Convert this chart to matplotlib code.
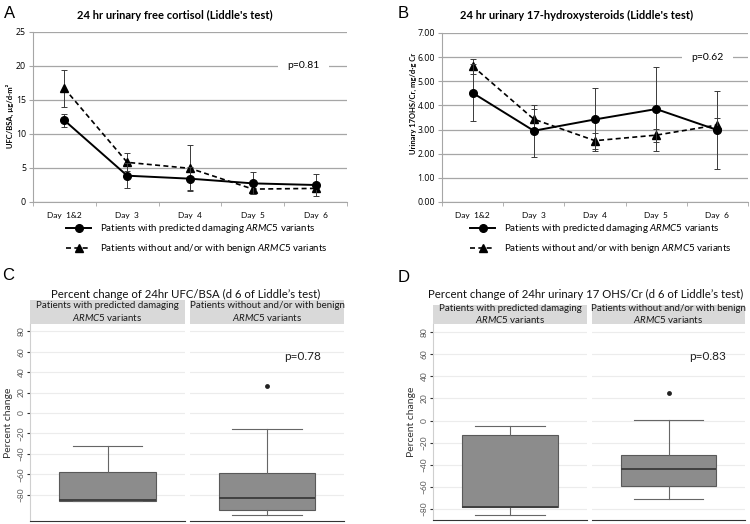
import matplotlib
matplotlib.use("Agg")
import matplotlib.pyplot as plt
import numpy as np
from matplotlib.lines import Line2D

plt.rcParams['font.family'] = ['Lato', 'DejaVu Sans']
plt.rcParams['mathtext.fontset'] = 'custom'
plt.rcParams['mathtext.it'] = 'Lato:italic'
plt.rcParams['mathtext.rm'] = 'Lato'

days = ['Day  1&2', 'Day  3', 'Day  4', 'Day  5', 'Day  6']
series_labels = ['Patients with predicted damaging $\\mathit{ARMC5}$ variants',
                 'Patients without and/or with benign $\\mathit{ARMC5}$ variants']

# panel A: UFC/BSA, mean and error
ufc_dmg = [12.0, 3.87, 3.43, 2.74, 2.5]
ufc_dmg_err = [0.9, 1.87, 1.67, 1.62, 1.6]
ufc_ben = [16.7, 5.83, 4.95, 1.9, 2.0]
ufc_ben_err = [2.7, 1.32, 3.4, 0.73, 0.6]

# panel B: 17OHS/Cr
ohs_dmg = [4.52, 2.95, 3.42, 3.85, 2.98]
ohs_dmg_err = [1.18, 1.07, 1.3, 1.73, 1.63]
ohs_ben = [5.63, 3.43, 2.54, 2.77, 3.19]
ohs_ben_err = [0.31, 0.42, 0.33, 0.27, 0.27]

# panels C/D: box statistics
strip_labels = ['Patients with predicted damaging\n$\\mathit{ARMC5}$ variants',
                'Patients without and/or with benign\n$\\mathit{ARMC5}$ variants']
ufc_box = [dict(whislo=-86.5, q1=-86.5, med=-84.8, q3=-57.8, whishi=-32.6, fliers=[]),
           dict(whislo=-99.6, q1=-95.3, med=-83.6, q3=-58.4, whishi=-16.0, fliers=[26.4])]
ohs_box = [dict(whislo=-85.4, q1=-78.5, med=-78.5, q3=-12.6, whishi=-4.8, fliers=[]),
           dict(whislo=-71.0, q1=-59.2, med=-43.6, q3=-30.7, whishi=0.3, fliers=[25.0])]

W, H = 750, 524
fig = plt.figure(figsize=(W / 100, H / 100), dpi=100)


def px_axes(l, t, r, b):
    return fig.add_axes([l / W, 1 - b / H, (r - l) / W, (b - t) / H])


def fx(x):
    return x / W


def fy(y):
    return 1 - y / H


grid_c = '#a6a6a6'


def line_panel(ax, dmg, dmg_err, ben, ben_err, ylim, yticks, fmt, ptext, px):
    x = np.arange(len(days))
    ax.errorbar(x, dmg, yerr=dmg_err, color='black', lw=1.4, marker='o', ms=5.5,
                ecolor='#3a3a3a', elinewidth=0.7, capsize=2, capthick=0.7, zorder=4)
    ax.errorbar(x, ben, yerr=ben_err, color='black', lw=1.2, ls=(0, (3, 2)), marker='^', ms=5.5,
                ecolor='#3a3a3a', elinewidth=0.7, capsize=2, capthick=0.7, zorder=3)
    ax.set_xlim(-0.5, len(days) - 0.5)
    ax.set_ylim(*ylim)
    ax.set_yticks(yticks)
    ax.set_yticklabels([fmt.format(v) for v in yticks], fontsize=6.3,
                       family=['Open Sans', 'DejaVu Sans'])
    ax.set_xticks(x)
    ax.set_xticklabels(days, fontsize=6)
    ax.set_xticks(np.arange(-0.5, len(days), 1), minor=True)
    ax.tick_params(axis='x', which='major', length=0, pad=7)
    ax.tick_params(axis='x', which='minor', length=3, color=grid_c)
    ax.tick_params(axis='y', length=3, color=grid_c, pad=2)
    ax.yaxis.grid(True, color=grid_c, lw=0.9)
    ax.set_axisbelow(True)
    for s in ['top', 'right']:
        ax.spines[s].set_visible(False)
    ax.spines['left'].set_color(grid_c)
    ax.spines['bottom'].set_color(grid_c)
    ax.text(px, ptext[1], ptext[0], ha='center', va='center', fontsize=7.5, zorder=5,
            bbox=dict(fc='white', ec='none', boxstyle='square,pad=0.9'))


axA = px_axes(33, 32, 347, 202)
line_panel(axA, ufc_dmg, ufc_dmg_err, ufc_ben, ufc_ben_err, (0, 25), [0, 5, 10, 15, 20, 25],
           '{:.0f}', ('p=0.81', 20), 3.81)
axB = px_axes(442, 33, 748, 202)
line_panel(axB, ohs_dmg, ohs_dmg_err, ohs_ben, ohs_ben_err, (0, 7), [0, 1, 2, 3, 4, 5, 6, 7],
           '{:.2f}', ('p=0.62', 6), 3.84)

fig.text(fx(175), fy(15), "24 hr urinary free cortisol (Liddle's test)", ha='center', va='center',
         fontsize=8, fontweight='bold')
fig.text(fx(577), fy(15), "24 hr urinary 17-hydroxysteroids (Liddle's test)", ha='center', va='center',
         fontsize=8, fontweight='bold')
fig.text(fx(10), fy(116), 'UFC/BSA, µg/d·m²', rotation=90, ha='center', va='center',
         fontsize=5.5, fontweight='bold')
fig.text(fx(413), fy(103), 'Urinary 17OHS/Cr, mg/d·g Cr', rotation=90, ha='center', va='center',
         fontsize=5.5, fontweight='bold')

handles = [Line2D([], [], color='black', lw=1.4, marker='o', ms=5.5),
           Line2D([], [], color='black', lw=1.2, ls=(0, (3, 2)), marker='^', ms=5.5)]
for lx in (66, 470):
    fig.legend(handles, series_labels, loc='upper left', bbox_to_anchor=(fx(lx), fy(222)),
               frameon=False, fontsize=7, handlelength=2.6, handletextpad=0.9,
               labelspacing=0.75, borderpad=0, borderaxespad=0)

for txt, x, y in [('A', 4, 13), ('B', 398, 13), ('C', 2, 276), ('D', 398, 277)]:
    fig.text(fx(x), fy(y), txt, ha='left', va='center', fontsize=12,
             family=['Liberation Sans', 'DejaVu Sans'])


def box_panel(boxes, lx, rx, top, strip_top, bottom, ylim, ptext, title, title_x):
    axes = []
    for i, (l, r) in enumerate([lx, rx]):
        ax = px_axes(l, top, r, bottom)
        ax.bxp([boxes[i]], positions=[1], widths=0.75, capwidths=[0.54], patch_artist=True,
               showfliers=True,
               boxprops=dict(facecolor='#8c8c8c', edgecolor='#595959', lw=0.8),
               medianprops=dict(color='#404040', lw=1.4),
               whiskerprops=dict(color='#666666', lw=0.8),
               capprops=dict(color='#666666', lw=0.8),
               flierprops=dict(marker='o', markerfacecolor='#222222', markeredgecolor='none', ms=3.5))
        ax.set_xlim(0.4, 1.6)
        ax.set_ylim(*ylim)
        ax.set_yticks(np.arange(-80, 81, 20))
        ax.yaxis.grid(True, color='#ececec', lw=0.8)
        ax.set_axisbelow(True)
        ax.set_xticks([])
        for s in ['top', 'right']:
            ax.spines[s].set_visible(False)
        ax.spines['bottom'].set_color('#333333')
        ax.spines['bottom'].set_linewidth(0.8)
        if i == 0:
            ax.spines['left'].set_color('#cfcfcf')
            ax.tick_params(axis='y', length=2.5, color='#333333', labelsize=6,
                           labelcolor='#555555', pad=1.5)
            plt.setp(ax.get_yticklabels(), rotation=90, va='center')
            ax.set_ylabel('Percent change', fontsize=7.5, color='#333333', labelpad=3)
        else:
            ax.spines['left'].set_visible(False)
            ax.tick_params(axis='y', length=0, labelleft=False)
            ax.text(ptext[1], ptext[2], ptext[0], ha='center', va='center', fontsize=8.5,
                    color='#222222')
        st = px_axes(l, strip_top, r, top)
        st.set_facecolor('#d9d9d9')
        st.set_xticks([])
        st.set_yticks([])
        for s in st.spines.values():
            s.set_visible(False)
        st.text(0.5, 0.5, strip_labels[i], ha='center', va='center', fontsize=7,
                color='#1a1a1a', linespacing=1.2, transform=st.transAxes)
        axes.append(ax)
    fig.text(fx(title_x), fy(294), title, ha='center', va='center', fontsize=8.2, color='#111111')
    return axes


box_panel(ufc_box, (30, 185), (190, 344), 324, 300, 521, (-105.8, 87.1),
          ('p=0.78', 1.28, 55), "Percent change of 24hr UFC/BSA (d 6 of Liddle\u2019s test)", 186)
box_panel(ohs_box, (433, 587), (592, 745), 324, 305, 520, (-89.8, 87.2),
          ('p=0.83', 1.31, 58), "Percent change of 24hr urinary 17 OHS/Cr (d 6 of Liddle\u2019s test)", 586)

fig.savefig('out.png', dpi=100)
